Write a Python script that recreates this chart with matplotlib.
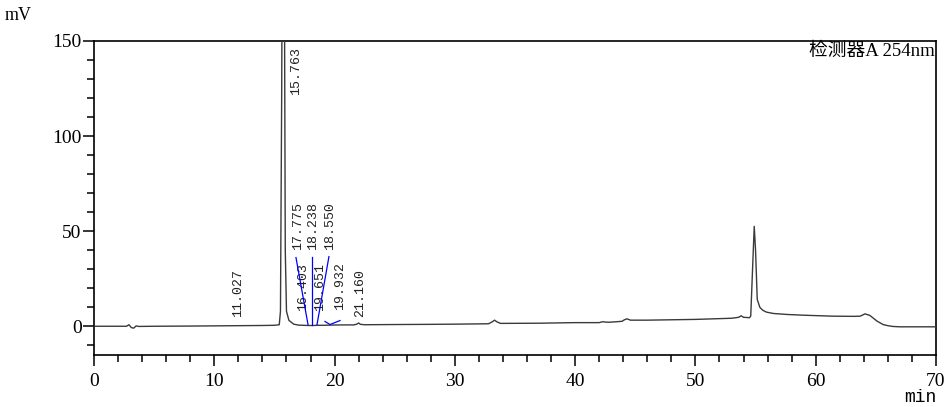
import matplotlib.pyplot as plt
from matplotlib.ticker import MultipleLocator

# chromatogram trace (min, mV)
time = [0, 2.7, 2.9, 3.1, 3.3, 3.5, 3.7, 5, 8, 10, 12, 14, 15.0, 15.4,
        15.5, 15.6, 15.7, 15.763, 15.82, 15.9, 16.0, 16.2, 16.4, 16.6, 17.0,
        17.8, 18.2, 18.6, 19.0, 19.7, 20.5, 21.6, 21.85, 22.0, 22.15, 22.5,
        25, 28, 30, 32.8, 33.1, 33.3, 33.5, 33.8, 37, 40, 42.0, 42.3, 42.5,
        42.8, 43.5, 43.9, 44.1, 44.3, 44.6, 46, 50, 53.0, 53.6, 53.8, 54.0,
        54.5, 54.6, 54.75, 54.89, 55.0, 55.14, 55.36, 55.6, 55.92, 56.5,
        57.6, 59, 61.4, 63.2, 63.7, 64.1, 64.5, 65.1, 65.6, 66.0, 66.4, 67, 70]
signal = [0.1, 0.1, 0.9, -0.6, -0.9, 0.3, 0.0, 0.1, 0.2, 0.3, 0.4, 0.5, 0.6, 0.9,
          8, 120, 280, 320, 200, 40, 8, 3.2, 2.2, 1.2, 0.7,
          0.5, 0.5, 0.6, 0.6, 0.7, 0.8, 0.8, 1.2, 1.8, 1.1, 0.9,
          1.0, 1.1, 1.2, 1.4, 2.4, 3.3, 2.4, 1.6, 1.7, 2.0, 2.0, 2.5, 2.3,
          2.2, 2.5, 2.7, 3.5, 4.0, 3.3, 3.3, 3.7, 4.3, 4.8, 5.6, 4.8,
          4.6, 5.5, 30, 52.6, 40, 14.2, 10.0, 8.5, 7.5, 6.8,
          6.3, 5.9, 5.4, 5.3, 5.4, 6.6, 5.8, 2.8, 1.0, 0.4, 0.0, -0.2, -0.2]

# peak labels: retention time, label anchor (time, mV)
peak_labels = ['11.027', '15.763', '16.403', '17.775', '18.238', '18.550',
               '19.651', '19.932', '21.160']
label_t = [11.97, 16.79, 17.37, 16.96, 18.20, 19.62, 18.79, 20.45, 22.11]
label_v = [5.2, 121.7, 7.9, 40.4, 40.4, 40.4, 7.9, 8.9, 5.2]

# blue leader lines from labels to peaks
leaders = [([16.79, 17.79], [36.2, 1.0]),
           ([18.15, 18.15], [36.7, 1.0]),
           ([19.53, 18.54], [36.7, 1.0]),
           ([19.20, 19.62, 20.45], [2.6, 1.0, 3.1])]

plt.rcParams['font.family'] = ['Liberation Serif', 'Noto Sans CJK SC']

fig = plt.figure(figsize=(9.46, 4.07), dpi=100)
ax = fig.add_axes([0.0994, 0.1278, 0.89, 0.7715])

ax.plot(time, signal, color='#3a3a3a', linewidth=1.0, zorder=3)
for xs, ys in leaders:
    ax.plot(xs, ys, color='#0000ff', linewidth=0.9, zorder=4)
for lab, tx, ty in zip(peak_labels, label_t, label_v):
    ax.text(tx, ty, lab, rotation=90, ha='center', va='bottom',
            family=['Liberation Mono'], fontsize=9.5, color='#222222')

ax.set_xlim(0, 70)
ax.set_ylim(-15, 150)
ax.xaxis.set_major_locator(MultipleLocator(10))
ax.xaxis.set_minor_locator(MultipleLocator(2))
ax.yaxis.set_major_locator(MultipleLocator(50))
ax.yaxis.set_minor_locator(MultipleLocator(10))
ax.tick_params(which='major', direction='out', length=8, width=1.1,
               labelsize=14, pad=1)
ax.tick_params(which='minor', direction='out', length=5, width=1.1)
ax.tick_params(axis='x', which='major', pad=5)
for sp in ax.spines.values():
    sp.set_linewidth(1.2)

fig.text(5 / 946, 1 - 20 / 407, 'mV', fontsize=13, ha='left', va='baseline')
fig.text(936 / 946, 1 - 402 / 407, 'min', fontsize=13, ha='right',
         va='baseline', family=['Liberation Mono'])
ax.text(0.999, 0.995, '检测器A 254nm', transform=ax.transAxes, ha='right',
        va='top', fontsize=13.5)

plt.savefig('out.png', dpi=100)
